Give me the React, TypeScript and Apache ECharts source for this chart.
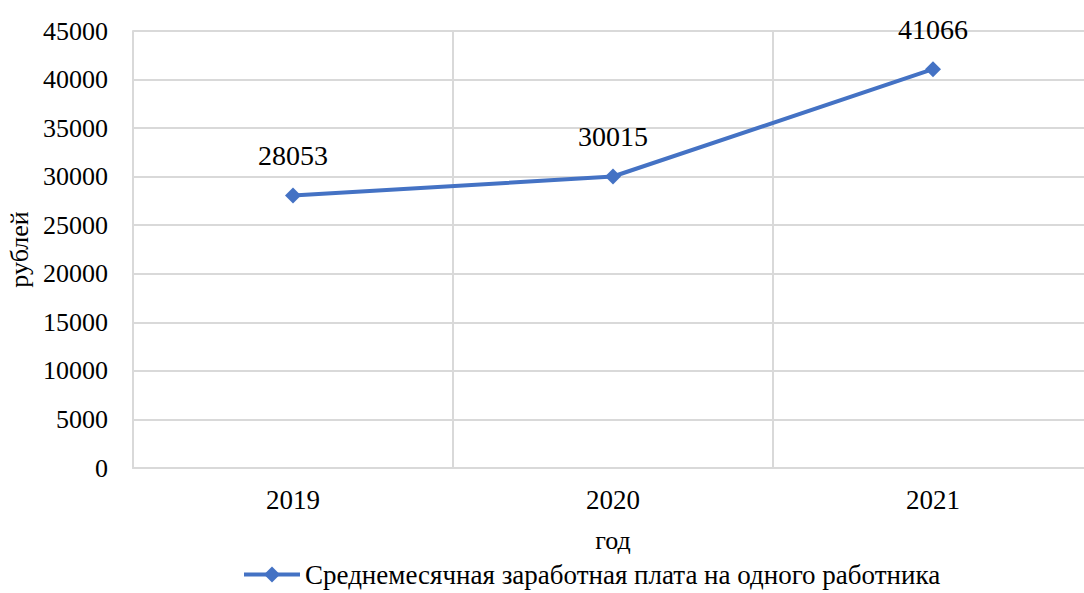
import React, { useEffect, useRef } from "react";
import * as echarts from "echarts";

const categories = ["2019", "2020", "2021"];
const values = [28053, 30015, 41066];
const seriesName = "Среднемесячная заработная плата на одного работника";
const xName = "год";
const yName = "рублей";

export default function App() {
  const ref = useRef<HTMLDivElement>(null);
  useEffect(() => {
    if (!ref.current) return;
    const chart = echarts.init(ref.current, null, { renderer: "svg" });
    const font = "Liberation Serif";
    chart.setOption({
      animation: false,
      textStyle: { fontFamily: font },
      grid: { left: 133, top: 31, width: 960, height: 437, containLabel: false, outerBoundsMode: "none" },
      legend: {
        bottom: 0,
        left: 237,
        itemWidth: 56,
        itemHeight: 20,
        itemGap: 4,
        lineStyle: { width: 4 },
        textStyle: { fontFamily: font, fontSize: 27, color: "#000" },
        data: [{ name: seriesName }],
      },
      xAxis: {
        type: "category",
        data: categories,
        boundaryGap: true,
        name: xName,
        nameLocation: "middle",
        nameGap: 59,
        nameTextStyle: { fontFamily: font, fontSize: 26, color: "#000" },
        axisLine: { show: true, lineStyle: { color: "#d9d9d9", width: 2 } },
        axisTick: { show: false },
        axisLabel: { fontFamily: font, fontSize: 27, color: "#000", margin: 18 },
        splitLine: { show: true, lineStyle: { color: "#d9d9d9", width: 2 } },
      },
      yAxis: {
        type: "value",
        min: 0,
        max: 45000,
        interval: 5000,
        name: yName,
        nameLocation: "middle",
        nameGap: 99,
        nameTextStyle: { fontFamily: font, fontSize: 26, color: "#000" },
        axisLine: { show: true, lineStyle: { color: "#d9d9d9", width: 2 } },
        axisTick: { show: false },
        axisLabel: {
          fontFamily: font,
          fontSize: 26,
          color: "#000",
          margin: 25,
          formatter: (v: number) => String(v),
        },
        splitLine: { show: true, lineStyle: { color: "#d9d9d9", width: 2 } },
      },
      series: [
        {
          name: seriesName,
          type: "line",
          data: values,
          symbol: "diamond",
          symbolSize: [16, 16],
          lineStyle: { color: "#4472C4", width: 4 },
          itemStyle: { color: "#4472C4" },
          label: {
            show: true,
            position: "top",
            distance: 18,
            fontFamily: font,
            fontSize: 28,
            color: "#000",
          },
        },
      ],
    });
    return () => chart.dispose();
  }, []);
  return (
    <div
      ref={ref}
      style={{ position: "fixed", left: 0, top: 0, width: 1084, height: 593, background: "#fff" }}
    />
  );
}
